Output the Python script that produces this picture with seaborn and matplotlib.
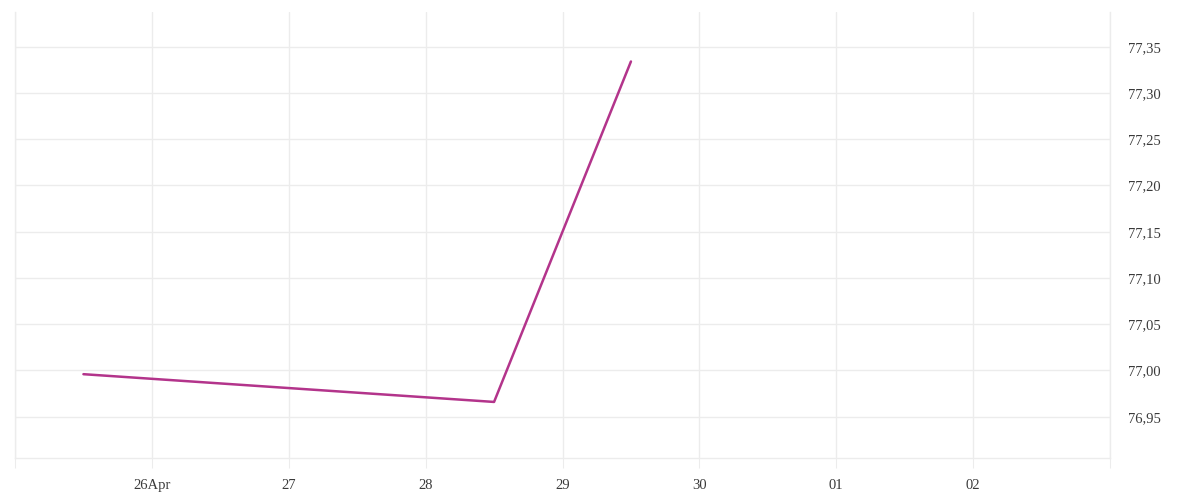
import seaborn as sns
import numpy as np
import matplotlib.pyplot as plt
import pandas as pd

# Values
times = ["2024-04-25 12:00", "2024-04-28 12:00", "2024-04-29 12:00"]
values = [76.996, 76.966, 77.334]

tick_days = pd.date_range("2024-04-25", "2024-05-03", freq="D")
tick_labels = ["", "26Apr", "27", "28", "29", "30", "01", "02", ""]
y_ticks = [76.95, 77.00, 77.05, 77.10, 77.15, 77.20, 77.25, 77.30, 77.35]

df = pd.DataFrame({"time": pd.to_datetime(times), "value": values})

sns.set_style("white")
plt.rcParams['font.family'] = ['Liberation Serif', 'DejaVu Serif']

fig = plt.figure(figsize=(12, 5), dpi=100)
ax = fig.add_axes([0.0125, 0.084, 0.9125, 0.892])

grid_col = "#ececec"
sns.lineplot(data=df, x="time", y="value", ax=ax, color="#b3348b", linewidth=1.8)

ax.set_xlim(tick_days[0], tick_days[-1])
ax.set_ylim(76.9054, 77.3875)
ax.set_xticks(tick_days)
ax.set_xticklabels(tick_labels)
ax.set_yticks(y_ticks)
ax.set_yticklabels([f"{v:.2f}".replace(".", ",") for v in y_ticks])
ax.yaxis.tick_right()

ax.grid(True, color=grid_col, linewidth=1)
ax.set_axisbelow(True)
ax.spines["top"].set_visible(False)
for side in ["bottom", "left", "right"]:
    ax.spines[side].set_visible(True)
    ax.spines[side].set_color(grid_col)
    ax.spines[side].set_linewidth(1)

ax.tick_params(axis="x", bottom=True, length=7.2, width=0.75, color=grid_col, pad=8,
               labelsize=10.5, labelcolor="#3a3a3a")
ax.tick_params(axis="y", length=0, pad=13, labelsize=10.5, labelcolor="#3a3a3a")
ax.set_xlabel("")
ax.set_ylabel("")

plt.savefig("out.png", dpi=100)
plt.close()
